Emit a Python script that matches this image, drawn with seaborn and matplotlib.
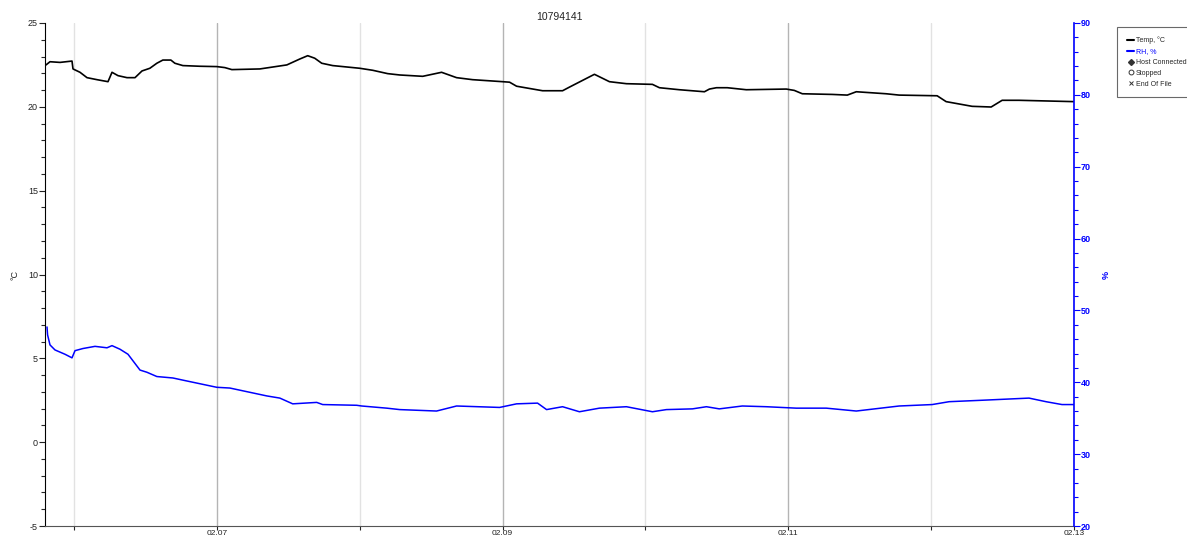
import numpy as np
import pandas as pd
import seaborn as sns
import matplotlib.pyplot as plt
import matplotlib.dates as mdates
from matplotlib.lines import Line2D
from matplotlib.ticker import MultipleLocator

TITLE = "10794141"
START = pd.Timestamp("2024-02-05")

# days after 02.05 00:00, temperature in degC
temp_days = [0.804, 0.832, 0.902, 0.986, 0.993, 1.042, 1.091, 1.161, 1.238, 1.266,
             1.308, 1.371, 1.427, 1.476, 1.531, 1.580, 1.622, 1.678, 1.706, 1.762,
             1.881, 2.000, 2.056, 2.105, 2.301, 2.490, 2.580, 2.636, 2.685, 2.734,
             2.811, 3.000, 3.091, 3.196, 3.280, 3.441, 3.573, 3.678, 3.790, 4.000,
             4.049, 4.098, 4.280, 4.420, 4.469, 4.643, 4.748, 4.867, 5.049, 5.098,
             5.238, 5.413, 5.448, 5.497, 5.573, 5.706, 5.986, 6.042, 6.098, 6.308,
             6.413, 6.476, 6.685, 6.776, 7.042, 7.105, 7.287, 7.420, 7.497, 7.615,
             8.000]
temp_vals = [22.50, 22.69, 22.65, 22.73, 22.26, 22.06, 21.74, 21.62, 21.50, 22.06,
             21.86, 21.74, 21.74, 22.14, 22.30, 22.60, 22.79, 22.79, 22.60, 22.46,
             22.42, 22.40, 22.34, 22.22, 22.26, 22.50, 22.85, 23.05, 22.90, 22.60,
             22.46, 22.30, 22.18, 21.98, 21.90, 21.82, 22.06, 21.74, 21.62, 21.50,
             21.47, 21.23, 20.96, 20.96, 21.18, 21.94, 21.50, 21.38, 21.34, 21.14,
             21.02, 20.90, 21.06, 21.14, 21.14, 21.02, 21.06, 20.98, 20.78, 20.74,
             20.70, 20.90, 20.78, 20.70, 20.66, 20.31, 20.03, 19.99, 20.39, 20.39,
             20.31]

# days after 02.05 00:00, relative humidity in %
rh_days = [0.811, 0.815, 0.832, 0.867, 0.937, 0.986, 1.007, 1.063, 1.147, 1.231,
           1.266, 1.322, 1.378, 1.462, 1.510, 1.580, 1.692, 1.762, 2.000, 2.091,
           2.350, 2.441, 2.531, 2.699, 2.741, 2.979, 3.014, 3.189, 3.280, 3.538,
           3.678, 3.979, 4.098, 4.245, 4.308, 4.420, 4.538, 4.678, 4.867, 5.049,
           5.147, 5.329, 5.427, 5.517, 5.678, 5.846, 6.056, 6.266, 6.476, 6.776,
           7.007, 7.126, 7.357, 7.685, 7.804, 7.916, 8.000]
rh_vals = [47.7, 46.6, 45.2, 44.5, 43.9, 43.4, 44.4, 44.7, 45.0, 44.8,
           45.1, 44.6, 43.9, 41.7, 41.4, 40.8, 40.6, 40.3, 39.3, 39.2,
           38.1, 37.8, 37.0, 37.2, 36.9, 36.8, 36.7, 36.4, 36.2, 36.0,
           36.7, 36.5, 37.0, 37.1, 36.2, 36.6, 35.9, 36.4, 36.6, 35.9,
           36.2, 36.3, 36.6, 36.3, 36.7, 36.6, 36.4, 36.4, 36.0, 36.7,
           36.9, 37.3, 37.5, 37.8, 37.3, 36.9, 36.9]

temp_df = pd.DataFrame({"time": START + pd.to_timedelta(temp_days, unit="D"), "temp": temp_vals})
rh_df = pd.DataFrame({"time": START + pd.to_timedelta(rh_days, unit="D"), "rh": rh_vals})

sns.set_style("white")
plt.rcParams["font.family"] = ["Liberation Sans", "DejaVu Sans"]
plt.rcParams["axes.unicode_minus"] = False

BLUE = "#0000ff"
fig = plt.figure(figsize=(11.87, 5.38), dpi=100)
ax = fig.add_axes([45 / 1187, 12 / 538, 1029 / 1187, 503 / 538])
ax2 = ax.twinx()

sns.lineplot(data=temp_df, x="time", y="temp", ax=ax, color="black", lw=1.2)
sns.lineplot(data=rh_df, x="time", y="rh", ax=ax2, color=BLUE, lw=1.1)

ax.set_xlim(START + pd.Timedelta(days=0.797), START + pd.Timedelta(days=8))
ax.set_ylim(-5, 25)
ax2.set_ylim(20, 90)

# x axis: label every second day, tick and grid every day
ax.xaxis.set_major_locator(mdates.DayLocator(bymonthday=[7, 9, 11, 13]))
ax.xaxis.set_minor_locator(mdates.DayLocator())
ax.xaxis.set_major_formatter(mdates.DateFormatter("%m.%d"))
ax.grid(True, axis="x", which="major", color="#b4b4b4", lw=1)
ax.grid(True, axis="x", which="minor", color="#e2e2e2", lw=1)
ax.set_axisbelow(True)

ax.yaxis.set_major_locator(MultipleLocator(5))
ax.yaxis.set_minor_locator(MultipleLocator(1))
ax2.yaxis.set_major_locator(MultipleLocator(10))
ax2.yaxis.set_minor_locator(MultipleLocator(2))

ax.tick_params(axis="y", which="major", direction="out", length=4, width=0.8,
               labelsize=6.5, colors="#222222", pad=1, left=True)
ax.tick_params(axis="y", which="minor", direction="out", length=3, width=0.8, left=True)
ax.tick_params(axis="x", which="major", direction="out", length=3, width=0.8,
               labelsize=6, colors="#222222", pad=0, bottom=True)
ax.tick_params(axis="x", which="minor", direction="out", length=3, width=0.8, bottom=True)
ax2.tick_params(axis="y", which="major", direction="out", length=4, width=0.8,
                labelsize=6.5, colors=BLUE, pad=1, right=True)
ax2.tick_params(axis="y", which="minor", direction="out", length=3, width=0.8,
                colors=BLUE, right=True)
for lab in ax2.get_yticklabels():
    lab.set_fontweight("bold")

ax.set_xlabel("")
ax.set_ylabel("°C", fontsize=6.5, color="#222222", labelpad=6)
ax2.set_ylabel("%", fontsize=6.5, color=BLUE, labelpad=8, fontweight="bold")

for a in (ax, ax2):
    a.spines["top"].set_visible(False)
ax.spines["left"].set_color("black")
ax.spines["bottom"].set_color("#555555")
ax.spines["right"].set_visible(False)
ax2.spines["left"].set_visible(False)
ax2.spines["bottom"].set_visible(False)
ax2.spines["right"].set_color(BLUE)
ax2.spines["right"].set_linewidth(1.2)

ax.set_title(TITLE, fontsize=7.5, color="#222222", pad=2)

handles = [
    Line2D([], [], color="black", lw=1.5),
    Line2D([], [], color=BLUE, lw=1.5),
    Line2D([], [], ls="", marker="D", color="#333333", markersize=3),
    Line2D([], [], ls="", marker="o", mfc="none", mec="#333333", markersize=3.5, mew=0.7),
    Line2D([], [], ls="", marker="x", color="#333333", markersize=3.5, mew=0.7),
]
labels = ["Temp, °C", "RH, %", "Host Connected", "Stopped", "End Of File"]
leg = fig.legend(handles, labels, loc="upper left", bbox_to_anchor=(1117 / 1187, 1 - 27 / 538),
                 fontsize=5.0, frameon=True, fancybox=False, edgecolor="#444444",
                 handlelength=1.1, handletextpad=0.2, labelspacing=0.55,
                 borderpad=1.4, borderaxespad=0)
leg.get_frame().set_linewidth(0.8)
leg.get_texts()[1].set_color(BLUE)

fig.savefig("out.png", dpi=100)
